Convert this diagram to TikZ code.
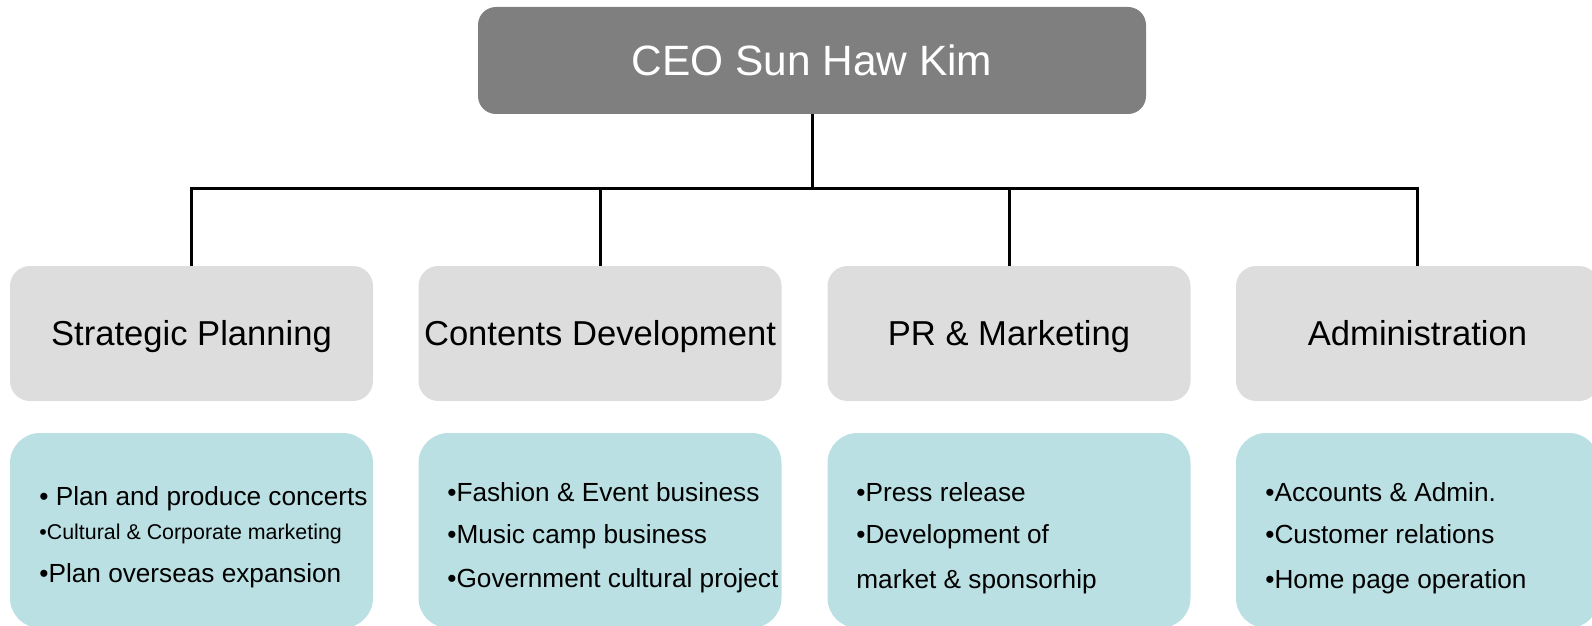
\documentclass[tikz,border=0pt]{standalone}
\usepackage{fontspec}
\setmainfont{Liberation Sans}
\definecolor{ceogray}{HTML}{7F7F7F}
\definecolor{deptgray}{HTML}{DDDDDD}
\definecolor{dutyteal}{HTML}{BBE0E3}
\begin{document}
\begin{tikzpicture}[x=0.5pt,y=-0.5pt,
  ceobox/.style={fill=ceogray, rounded corners=9pt, minimum width=334pt, minimum height=53.5pt,
    inner sep=0pt, text=white, font=\fontsize{21.2}{24}\selectfont, text height=15.2pt, text depth=0pt},
  deptbox/.style={fill=deptgray, rounded corners=10pt, minimum width=181.5pt, minimum height=67.5pt,
    inner sep=0pt, font=\fontsize{17.3}{20}\selectfont, text height=12.4pt, text depth=0pt},
  dutybox/.style={fill=dutyteal, rounded corners=15pt, minimum width=181.5pt, minimum height=97.5pt, inner sep=0pt},
  item/.style={anchor=base west, inner sep=0pt, font=\fontsize{13.1}{15}\selectfont},
  smallitem/.style={anchor=base west, inner sep=0pt, font=\fontsize{10.7}{13}\selectfont},
  conn/.style={line width=1.5pt, black}]
\useasboundingbox (0,0) rectangle (1592,626);
\begin{scope}
\clip (0,0) rectangle (1592,626);
\node[ceobox] (ceo) at (812,60.5) {CEO Sun Haw Kim};
\node[deptbox] (d1) at (191.5,333.5) {Strategic Planning};
\node[deptbox] (d2) at (600,333.5) {Contents Development};
\node[deptbox] (d3) at (1009,333.5) {PR \& Marketing};
\node[deptbox] (d4) at (1417.5,333.5) {Administration};
\node[dutybox] (b1) at (191.5,530.5) {};
\node[dutybox] (b2) at (600,530.5) {};
\node[dutybox] (b3) at (1009,530.5) {};
\node[dutybox] (b4) at (1417.5,530.5) {};
\end{scope}
\coordinate (busL) at (191.5,189);
\coordinate (busR) at (1417.5,189);
\draw[conn] (ceo.south) -- (ceo.south |- busL);
\draw[conn] ([xshift=-0.75pt]busL) -- ([xshift=0.75pt]busR);
\draw[conn] (d1.north |- busL) -- (d1.north);
\draw[conn] (d2.north |- busL) -- (d2.north);
\draw[conn] (d3.north |- busL) -- (d3.north);
\draw[conn] (d4.north |- busL) -- (d4.north);
\node[item] (t11) at (39,505) {• Plan and produce concerts};
\node[smallitem] (t12) at (39,539.5) {•Cultural \& Corporate marketing};
\node[item] (t13) at (39,582) {•Plan overseas expansion};
\node[item] (t21) at (447,501) {•Fashion \& Event business};
\node[item] (t22) at (447,543) {•Music camp business};
\node[item] (t23) at (447,587) {•Government cultural project};
\node[item] (t31) at (856,501) {•Press release};
\node[item] (t32) at (856,543) {•Development of};
\node[item] (t33) at (856,588) {market \& sponsorhip};
\node[item] (t41) at (1265,501) {•Accounts \& Admin.};
\node[item] (t42) at (1265,543) {•Customer relations};
\node[item] (t43) at (1265,588) {•Home page operation};
\end{tikzpicture}
\end{document}
